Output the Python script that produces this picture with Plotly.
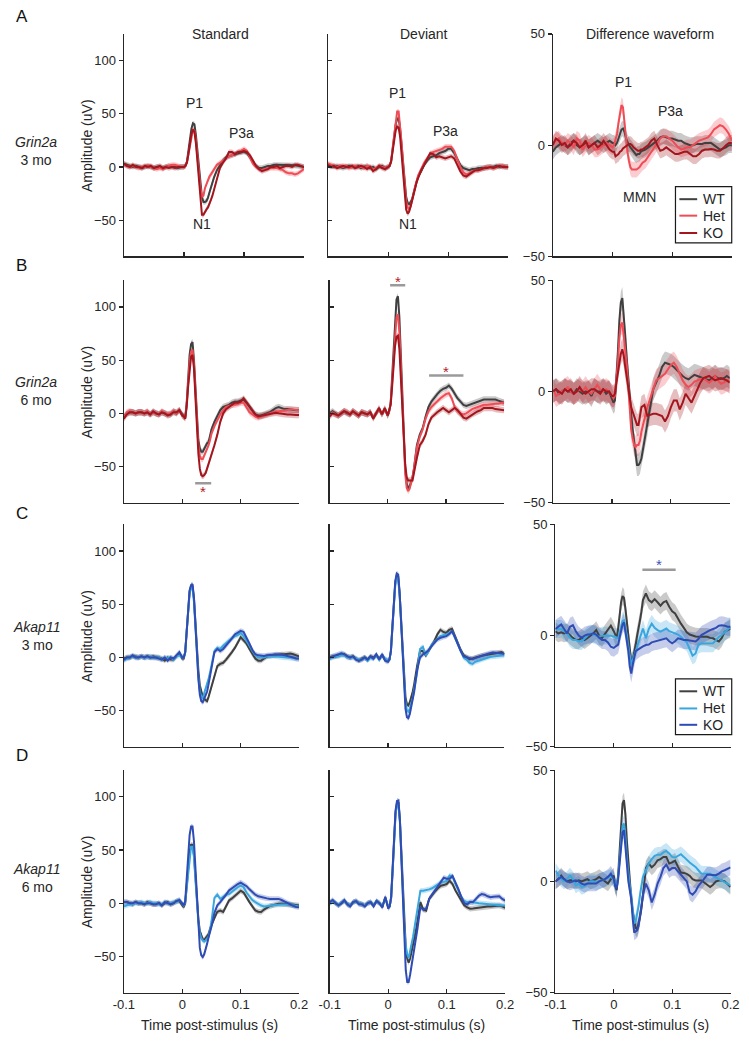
import plotly.graph_objects as go

W, H = 749, 1041

# ---------------- time grid (s) ----------------
T_PRE = [round(-0.1 + 0.005 * i, 4) for i in range(21)]
T_MID = [round(0.0025 * i, 4) for i in range(1, 21)]
T_LATE = [round(0.05 + 0.005 * i, 4) for i in range(1, 31)]
TIME = T_PRE + T_MID + T_LATE

# ---------------- Grin2a 3 mo ----------------
G3_STD_WT = [3, 2, 1, 0, 1, 0, -1, 0, 1, 0, -1, 0, 0, -1, 0, 1, 0, 0, -1, 0, 0,
             1, 5, 15, 27, 36, 41, 40, 30, 15, -2, -18, -28, -33, -33, -32, -29, -24, -19, -14, -10,
             -3, 2, 6, 9, 10, 11, 12, 13, 14, 14.5, 13, 9, 4, 1, -1, -1, 0, 1, 1, 2, 2, 2, 2, 2, 2, 2, 1.5, 1, 0.5, 0]
G3_STD_HET = [2, 1, 0, 1, 0, -1, 0, 0, 1, 0, -1, -2, -1, -2, 0, 1, 2, 2, 1, 0, 0,
              1, 4, 12, 23, 31, 35, 34, 25, 10, -6, -20, -28, -27, -20, -16, -12, -9, -7, -5, -3,
              2, 4, 6, 8, 10, 11, 12, 14, 15, 17, 15, 9, 3, 0, -2, -3, -2, -1, -1, -1, -1, -2, -3, -5, -6, -6, -7, -6, -4, -2]
G3_STD_KO = [3, 1, 0, 2, 0, 0, -1, 1, 0, 1, -1, 0, 1, -1, 0, -1, 0, -1, 0, 0, 0,
             1, 4, 12, 22, 31, 35, 33, 22, 5, -15, -33, -45, -45, -42, -40, -38, -35, -31, -27, -22,
             -10, -1, 4, 8, 14, 14, 12, 14, 14, 15, 14, 11, 6, 1, -2, -4, -3, -2, 0, 0, 1, -1, 0, 1, 1, 0, 2, 2, 1, 0]

G3_DEV_WT = [2, 1, 0, 1, 0, -1, 0, 1, 0, 0, 1, -1, 0, 1, -1, 0, -2, 0, 1, -1, 0,
             1, 5, 16, 30, 40, 45, 46, 36, 20, 2, -15, -28, -34, -35, -33, -30, -24, -18, -13, -9,
             -4, 2, 6, 9, 10, 11, 13, 14, 15, 17, 17, 13, 7, 2, -1, -2, -3, -2, -2, -1, -1, -1, 0, 0, 0, 1, 0, 1, 0, 0]
G3_DEV_HET = [3, 2, 1, 0, 1, 0, 1, -1, 0, 1, 0, 0, -1, 1, 0, -2, -1, 1, 0, -1, 0,
              1, 6, 18, 34, 46, 52, 52, 40, 22, 2, -18, -32, -38, -40, -37, -32, -25, -18, -12, -8,
              -2, 4, 8, 12, 14, 15, 16, 17, 19, 19, 19, 15, 8, 0, -5, -7, -6, -4, -3, -3, -2, -1, 0, 0, -1, 0, 1, 1, 0, 0]
G3_DEV_KO = [2, 0, 1, -1, 0, 1, 0, 0, 1, -1, 0, 1, 0, -2, 0, -4, -2, 1, -1, -2, 0,
             1, 5, 14, 26, 34, 38, 37, 28, 12, -8, -28, -40, -44, -42, -37, -32, -26, -20, -14, -10,
             -3, 2, 8, 13, 12, 9, 10, 9, 8, 9, 10, 8, 2, -4, -8, -9, -7, -5, -3, -3, -2, -1, -1, 0, -1, 0, 1, 0, 0, 0]

G3_DIF_WT = [-3, -1, 0, 1, 0, -1, 1, 2, 0, -1, 0, 1, -1, 0, 1, 2, 1, 0, 1, 2, 1,
             1, 0, 1, 3, 5, 7, 7.5, 6, 3, 1, 0, -1, -2, -3, -4, -4.5, -4, -4, -3, -2.5,
             -2, -1, 0, 1, 2, 3.5, 4, 3.5, 3, 3, 2.5, 2, 2, 1, 0.5, 0, 0, 0.5, 0.5, 0.5, 1, 1, 1, 0, -1, -2, -1.5, -1, 0, 0]
G3_DIF_HET = [1, 2, 3, 1, 0, 2, 1, -1, 3, 2, -2, 0, 1, 0, -2, -2, -1, 0, 1, 0, -1,
              0, 2, 5, 10, 15, 18, 17, 10, 3, -3, -7, -10, -11, -11, -11, -11, -10.5, -10, -9, -8,
              -7, -5, -3, -1, 1, 3, 4, 4, 3, 2, 0.5, -1, -2, -1.5, -1, -1, 0, 1, 2, 2.5, 3, 3.5, 5, 7, 8, 9, 8.5, 7, 5, 2]
G3_DIF_KO = [0, 3, 2, 0, 1, -1, 0, 2, 1, -1, 0, 2, -1, 0, 1, -1, 0, 2, 0, -2, -3,
             -3, -5, -4.5, -4, -3, -2.5, -1.5, -1, -0.5, 0, 0.5, 0.5, 0, -1, -1.5, -2, -2.5, -2.5, -2, -2,
             -1, 0, 2, 3, 0, -2.5, -2, -1, -2, -3, -4, -4, -3.5, -3, -3, -4, -5, -5, -4, -2.5, -2, -2, -1.7, -2, -2.5, -2.5, -1.5, 0, 1, 1]

# ---------------- Grin2a 6 mo ----------------
G6_STD_WT = [-3, 0, 1, 1, 0, 1, 1, 0, 1, -1, 1, 0, -1, 1, 0, -1, -1, 2, 0, 3, -1,
             -3, -4, 10, 35, 55, 65, 67, 50, 22, -5, -25, -33, -36, -36, -33, -30, -28, -27, -22, -15,
             -8, -3, 3, 6, 7, 8, 10, 11, 11, 12, 13, 10, 6, 2, -1, -2, -2, -1, 0, 1, 3, 5, 6, 5, 4, 4, 3.5, 3, 3, 3]
G6_STD_HET = [-4, 1, 2, 1, 0, 1, 1, 0, 2, -1, 1, 0, -1, 2, 0, -1, 0, 2, 0, 3, -2,
              -3, -4, 8, 30, 48, 58, 60, 46, 20, -8, -30, -40, -43, -43, -40, -36, -33, -30, -25, -19,
              -12, -6, -1, 3, 6, 7, 8, 8, 9, 10, 10, 6, 1, -1, -3, -4, -3, -2, -1, 0.5, 1, 1.5, 2, 2.5, 3, 3.5, 3.7, 3.5, 3, 3]
G6_STD_KO = [-5, -1, 1, 1, 0, 1, 1, 0, 1, -1, 2, 0, -1, 1, 0, -2, -1, 1, 1, 3, -2,
             -3, -5, 6, 25, 43, 53, 55, 42, 15, -15, -38, -52, -58, -59, -58, -56, -52, -48, -44, -38,
             -30, -20, -8, 0, 4, 6, 8, 10, 10, 11, 14, 10, 6, 2, -1, -3, -2.5, -2, -1, -0.5, 0, 0.5, 0, -0.5, -1, -1, -1, -1.5, -1.5, -1.5]

G6_DEV_WT = [0, 2, 0, -2, 0, 2, 0, -1, 2, 0, -2, 1, 0, -1, 1, -4, 0, 4, -1, 4, -2,
             2, 10, 35, 65, 92, 107, 110, 90, 55, 15, -25, -52, -66, -70, -69, -65, -60, -52, -40, -30,
             -20, -14, -3, 6, 11, 15, 18, 21, 23, 24, 26, 23, 18, 14, 11, 8, 7, 8, 9, 10, 11, 12, 13, 13, 13, 13, 13, 12, 11, 10]
G6_DEV_HET = [-2, 1, -1, -2, 0, 2, 1, -1, 2, 0, -2, 1, 0, -1, 1, -4, 0, 4, -1, 4, -2,
              2, 9, 30, 55, 78, 90, 93, 76, 45, 8, -30, -57, -70, -73, -71, -66, -60, -52, -42, -32,
              -22, -15, -5, 2, 6, 9, 12, 14, 16, 18, 19, 14, 6, 2, 0, -1, 0, 2, 4, 5, 6, 7, 8, 8, 8.5, 9, 9, 9, 10, 10]
G6_DEV_KO = [-3, 0, -1, -2, 0, 2, 1, -1, 2, 0, -2, 1, 0, -1, 1, -5, 0, 5, -1, 5, -2,
             2, 8, 25, 45, 63, 72, 73, 60, 35, 5, -25, -48, -60, -63, -63, -63, -63, -56, -48, -42,
             -30, -26, -20, -10, -4, -1, 1, 3, 5, 3, 1, 3, 5, 3, -1, -4, -5, -3, -1, 0.5, 2, 3, 5, 5, 5, 5, 4, 3.5, 3, 3]

G6_DIF_WT = [0, 1, -1, 0, 1, 0, 0, -1, 1, 0, -1, 0, 0, -2, 1, 0, 0, 1, -1, 0, -3,
             -5, -4, 5, 18, 32, 40, 42, 35, 25, 15, 5, -3, -10, -17, -23, -28, -33, -33, -32, -30,
             -22, -15, -6, 1, 4, 7, 11, 13, 12.5, 12, 11, 9.5, 8, 7, 6, 5.5, 6.5, 7.5, 7, 6.5, 6, 5.5, 5, 6, 7, 6, 5.6, 6, 7, 6]
G6_DIF_HET = [1, -2, -1, 0, 1, 2, 0, -1, 0, 1, 0, 2, 0, -1, 1, 3, 1, 0, 1, 0, -2,
              -3, -2, 4, 13, 24, 30, 31, 25, 18, 12, 3, -8, -17, -21, -24, -25, -24, -24, -22, -18,
              -12, -7, -3, 1, 5, 6, 7, 8, 10, 12, 13, 11, 8, 5, 3, 2, 3, 4.5, 5, 5.5, 6, 5, 4, 5, 7, 5, 3.5, 4, 5, 5]
G6_DIF_KO = [0, 1, 0, -1, 1, 0, 1, -1, 0, 2, 0, -1, 0, 1, 1, 0, -1, 1, 0, 0, -2,
             -2, -1, 4, 9, 14, 17, 19, 16, 11, 6, 1, -3, -7, -9, -11, -13, -15, -15, -11, -7,
             -6, -11, -10.5, -10, -10, -10.5, -11, -13.5, -11, -7, -4, -4, -8, -5, -1, -3, -5, -2, 1, 4, 6, 6.5, 7, 6, 5, 5.5, 6, 5.5, 5, 4]

# ---------------- Akap11 3 mo ----------------
A3_STD_WT = [-1, 0, 0, 1, 1, 0, 1, 0, 1, 0, 1, 0, 0, -1, -3, 0, -2, -2, 1, 4, -1,
             -1, 5, 25, 48, 62, 67, 67, 55, 32, 8, -12, -26, -33, -37, -39, -40, -41, -37, -32, -28,
             -18, -8, -6, -5, -2, 1, 5, 9, 14, 19, 16, 13, 8, 3, -1, -3, -3, -1, 1, 1.5, 2, 2, 2.5, 3, 3, 3.5, 3.7, 3, 2, 1]
A3_STD_HET = [-3, -1, 0, 1, 0, 0, 1, 0, 0, 1, 0, 0, 0, -2, 0, -1, 0, -2, 1, 2, 0,
              0, 5, 25, 47, 60, 66, 65, 52, 28, 3, -18, -32, -37, -38, -34, -30, -25, -20, -14, -8,
              6, 9, 8, 11, 14, 16, 18, 20, 21, 23, 20, 16, 11, 6, 2, 0, 0, 0, 1, 1, 1.5, 1.5, 1, 0.5, 0, 0, 0, -0.5, -1, -1.5]
A3_STD_KO = [-2, 0, 0, 2, 0, 0, 1, 0, 1, 0, 0, 0, -1, -2, 0, -3, 0, -1, 2, 5, 0,
             0, 5, 26, 49, 63, 68, 69, 56, 30, 3, -20, -35, -41, -42, -39, -35, -32, -25, -18, -11,
             5, 8, 6, 8, 11, 14, 18, 21.6, 23, 25, 24, 19, 13, 7, 3, 2, 1.5, 1.5, 2, 2, 2.5, 3, 3, 2.5, 2, 1.5, 1, 0, -1, -1]

A3_DEV_WT = [0, 1, 1, 2, 3, 3, 1, 0, 1, -1, -3, -1, 0, -2, 1, 0, 2, -1, 2, -2, -3,
             -2, 6, 28, 52, 70, 77, 76, 60, 35, 5, -20, -37, -44, -45, -42, -38, -32, -25, -15, -8,
             6, 6, 2, 6, 11, 16, 22, 26, 24, 23, 26, 27, 20, 13, 7, 2, 0, -1.5, -1, 0, 1, 1.5, 2, 2.5, 3, 3.5, 4, 5, 5, 3]
A3_DEV_HET = [-1, 0, 1, 1, 2, 2, 0, 0, 0, -1, -2, -2, 0, -3, 0, -1, 2, -2, 2, -1, -3,
              -2, 6, 27, 50, 68, 75, 74, 58, 32, 2, -25, -42, -50, -51, -48, -43, -38, -30, -22, -14,
              8, 10, 2, 6, 12, 15, 18, 20, 21, 21.6, 23, 24.7, 19, 12, 6, 0, -2, -5, -6, -4, -3, -2, -1, 0, 0.5, 1, 1.3, 1.5, 1.8, 2]
A3_DEV_KO = [0, 1, 2, 3, 4, 3, 1, 0, 1, -2, -3, -2, 0, -2, 1, -1, 3, -2, 3, -3, -4,
             -2, 6, 28, 54, 72, 79, 78, 61, 33, 0, -30, -48, -56, -57, -53, -47, -40, -32, -22, -12,
             0, 3, 4.6, 7, 11, 14, 17, 18.5, 19.5, 20, 22, 24.7, 19, 12, 6, 1, 0, -1, -1.5, -0.5, 0.5, 1.5, 2, 3, 4, 4.6, 4.5, 4, 3.7, 3.5]

A3_DIF_WT = [2, 1, 1.5, 1, 1.5, 0, -1, -2, -2, -1, -2, -1, 0, 1, 2.5, 0, -1, 1, 3, 4.5, 2,
             0, -1, 3, 9, 15, 17.8, 17, 12, 6, 3, -5, -12, -11, -8, -4, 0, 3, 7, 11, 16,
             19, 16, 15, 16.4, 15, 13.5, 15, 15.6, 13, 11, 10, 7.5, 5.4, 3.5, 1.5, 0.5, 0, -0.4, -0.5, -0.4, -0.4, -0.5, -1, -1.2, -2, -2.6, -1, 1.8, 2.5, 3.2]
A3_DIF_HET = [3, 3, 3, 2, 1, -1, -2, -2, -2.5, -2.5, -1, 0, 1, 0.5, 0, -0.5, 0, 0, 0, 0, -0.5,
              -0.5, -1, -1, 1, 4, 6.5, 6.9, 4, 0, -5, -10, -12.9, -11, -9, -6, -4, -2, 0, 2, 3.2,
              -1.2, 3, 5.4, 3.5, 2.5, 1.8, 2.5, 3.2, 2, 1.5, 1, 0.5, -0.5, -2, -3, -6, -9, -8, -4, -3.5, -3.4, -3.4, -3.4, -3.4, -2, -0.5, 0.3, 1.5, 3, 4]
A3_DIF_KO = [3, 4, 5, 3, 1, 4, 4.7, 2, 0, -1, 0, 0.5, 0.5, 1, 0.5, -1, -2, -2, -3, -5, -5.5,
             -5, -4.5, -4, -1, 3, 5, 6, 2, -3, -7, -14, -17, -13, -10, -7, -6.5, -6, -5.5, -5, -4.8,
             -4.2, -4, -3, -2.6, -2.3, -2, -1.5, -1.2, -2.5, -3.4, -2.5, -1.2, -1.5, -2, -2, -2.2, -2.5, -2.6, -1.5, 0.3, 1, 1.8, 2.5, 3, 3.5, 4.5, 4.7, 4.5, 4, 4]

# ---------------- Akap11 6 mo ----------------
A6_STD_WT = [1, 1, 0, -1, 1, 0, 0, -1, 1, 0, -1, -1, 0, -2, 0, 1, -1, 0, 2, 2, -2,
             -3.7, 0, 15, 33, 48, 55, 55, 45, 25, 3, -15, -26, -31, -34, -34.6, -33, -31, -29, -24, -20,
             -14, -8, -7, -8.3, -3, 2.5, 4.5, 7, 9, 11.7, 10, 5, 1, -3, -6.8, -8, -8.3, -6, -4, -2.5, -2, -1, -0.6, -0.6, -1, -1, -1.2, -1.5, -2, -2.2]
A6_STD_HET = [-3, -2, -1, -1, 0, 0, 1, 0, 0, 1, 0, 0, -1, -1, 1, 0, 0, 1, 1, 3, -1,
              -2, 1, 14, 32, 46, 53, 53, 43, 22, 0, -18, -28, -33, -35, -36, -35, -33, -31.5, -25, -17,
              5, 8, 4, 6, 8, 8.6, 11, 13, 15, 16.4, 15, 10, 6, 3, 1, -1, -2.2, -3, -3, -2.5, -2, -1.5, -1.2, -1.2, -1.2, -1.2, -1.2, -2, -2.5, -3]
A6_STD_KO = [1, 1, 0, 0, 1, 0, 0, -1, 0, 0, -1, -1, 0, -2, 1, 0, -1, 0, 2, 3, -1,
             -2, 2, 20, 45, 64, 72, 72, 58, 30, 0, -25, -42, -49, -50.6, -48, -44, -38, -32, -27, -22,
             -9, -2, 1, 4, 8, 12, 14, 16.4, 18, 19.4, 18, 16, 13, 10, 8, 6.5, 5.6, 5, 4.5, 4, 4, 4, 4, 3, 1.5, 0, -1.5, -2.5, -3.5, -3.7]

A6_DEV_WT = [0, 2, 0, -2, 0, 2, -1, -2, 1, 2, 0, -1, -2, 0, 1, -2, 2, 0, -3, 5, -4,
             -3, 5, 30, 62, 85, 94, 95, 78, 45, 8, -22, -42, -52, -56, -52, -44, -38, -32, -25, -15,
             1, -6, -7, 4, 8, 11, 14, 16.4, 17, 18, 21, 18, 12, 7, 2, -2, -4, -5.2, -5, -4.5, -4, -3.7, -3.5, -3.2, -3, -2.8, -2.5, -2.2, -3, -4.3]
A6_DEV_HET = [0, 2, 0, -2, 1, 2, -1, -2, 1, 2, 0, -1, -2, 0, 1, -2, 2, 0, -3, 5, -3,
              -3, 5, 30, 60, 83, 92, 93, 76, 43, 6, -22, -40, -48, -51.5, -46, -38, -31.5, -22, -15, -7,
              11.7, 11.7, 12, 13, 14, 16, 18, 19.4, 20, 21, 26, 25, 18, 12, 6, 2, 1, 1, 1, 0.5, 0, -0.3, -0.6, -1, -1.5, -2, -2.2, -2.2, -2.2, -2.2]
A6_DEV_KO = [1, 3, 0, -2, 0, 3, -1, -3, 1, 2, -1, -1, -3, 0, 1, -3, 2, 0, -4, 6, -5,
             -3, 6, 32, 63, 87, 96, 96.6, 78, 42, 0, -38, -63, -74, -74, -67, -59, -50, -40, -32, -24,
             -3.7, -6, -5, 4, 8, 12, 15, 20, 24, 23, 23, 25.6, 20, 13.3, 6, 0, -1, 1, 1, 4, 7, 8.6, 8, 6.5, 5.6, 6, 6.5, 6.5, 4, 2.5]

A6_DIF_WT = [0, 1, 2.6, 1, 0, 0.5, 0.5, 0, 0.5, 0, 0.5, 1, 0, 0.5, 1, 2, 1, 0, -1, 1, 2.6,
             -2, -4, 3, 14, 28, 35, 36.5, 30, 18, 8, 0, -8, -14, -18.7, -21, -21.6, -19, -16, -12, -6,
             6, 8, 6.3, 7.5, 9.5, 10, 11, 11, 8, 8.5, 9.3, 6.5, 4, 3.8, 3.4, 2.5, 1, 0.4, 0.4, 0.4, -0.5, -1.5, -2.5, -1.5, 0, 0.4, 0.4, 0, -1.5, -2.5]
A6_DIF_HET = [4.8, 3, 1, 0, 1, 2.6, 1, -1.8, -1, -2.5, -2, -1, 0, 0, -0.5, 0, 0.5, 1, 1.5, 2, 1,
              -1, -2.5, 2, 10, 20, 25, 26, 20, 10, 2, -2, -6, -13, -19, -18, -15, -11, -6, -1, 2,
              5, 8, 10, 11.5, 12, 12, 13, 13.7, 12.5, 11, 10.7, 11.5, 12.2, 11, 9.5, 8.5, 7.5, 6.5, 5, 3.5, 3.4, 3.4, 3.4, 2.5, 1.8, 1.2, 0.5, -0.3, -1, -1.8]
A6_DIF_KO = [0, 1, 2, 1, 0, -0.5, 0, 0.5, 0, -1, -1.5, -1, -1, -1, -1, 0, 0.5, 1, 2, 3.4, 1,
             -2, -3.2, 1, 8, 17, 22, 23, 16, 6, 0, -4, -8, -17, -23, -22.5, -22, -20, -15, -11, -6,
             -1, -4, -9.5, -6, -1, 2, 6, 7.5, 5, 6, 6, 4.5, 3, 1.5, 0, -5, -6, -4.5, -2, -0.5, 1.5, 3, 3, 2.8, 2.8, 3.5, 4.5, 5, 5.8, 6.3]

# SEM half-widths of shaded bands (uV), per row
SEM_ERP = [2.5, 3.0, 2.5, 2.5]
SEM_DIFF = [3.5, 5.0, 4.0, 3.5]

GROUPS = ['WT', 'Het', 'KO']
ROW_LETTERS = ['A', 'B', 'C', 'D']
ROW_GENES = ['Grin2a', 'Grin2a', 'Akap11', 'Akap11']
ROW_AGES = ['3 mo', '6 mo', '3 mo', '6 mo']
COL_TITLES = ['Standard', 'Deviant', 'Difference waveform']
X_TICKS = [-0.1, 0, 0.1, 0.2]
X_TICKTEXT = ['-0.1', '0', '0.1', '0.2']
Y_TICKS_ERP = [-50, 0, 50, 100]
Y_TICKS_DIFF = [-50, 0, 50]

PANELS = [
    [(G3_STD_WT, G3_STD_HET, G3_STD_KO), (G3_DEV_WT, G3_DEV_HET, G3_DEV_KO), (G3_DIF_WT, G3_DIF_HET, G3_DIF_KO)],
    [(G6_STD_WT, G6_STD_HET, G6_STD_KO), (G6_DEV_WT, G6_DEV_HET, G6_DEV_KO), (G6_DIF_WT, G6_DIF_HET, G6_DIF_KO)],
    [(A3_STD_WT, A3_STD_HET, A3_STD_KO), (A3_DEV_WT, A3_DEV_HET, A3_DEV_KO), (A3_DIF_WT, A3_DIF_HET, A3_DIF_KO)],
    [(A6_STD_WT, A6_STD_HET, A6_STD_KO), (A6_DEV_WT, A6_DEV_HET, A6_DEV_KO), (A6_DIF_WT, A6_DIF_HET, A6_DIF_KO)],
]

RED_LINES = ['#404040', '#ef4c56', '#a3161e']
RED_BANDS = ['rgba(64,64,64,0.28)', 'rgba(239,76,86,0.28)', 'rgba(163,22,30,0.28)']
BLUE_LINES = ['#404040', '#3aa6de', '#2f4cb4']
BLUE_BANDS = ['rgba(64,64,64,0.28)', 'rgba(58,166,222,0.28)', 'rgba(47,76,180,0.28)']

# significance bars: (row, col, t_start, t_end, bar_y, star_y (bottom of text box), star colour)
SIG = [
    (1, 0, 0.022, 0.0495, -65.7, -83.0, '#b3212b'),
    (1, 1, 0.004, 0.030, 120.4, 114.4, '#b3212b'),
    (1, 1, 0.071, 0.130, 35.5, 29.6, '#b3212b'),
    (2, 2, 0.049, 0.106, 29.6, 27.3, '#3b54b8'),
]

# peak labels in row A: (col, t, y, text)
PEAK_LABELS = [
    (0, 0.0168, 59.8, 'P1'), (0, 0.0957, 31.7, 'P3a'), (0, 0.0309, -54, 'N1'),
    (1, 0.0159, 69.4, 'P1'), (1, 0.0948, 33.6, 'P3a'), (1, 0.0337, -53.5, 'N1'),
    (2, 0.0184, 28.4, 'P1'), (2, 0.0966, 15.4, 'P3a'), (2, 0.0445, -23.5, 'MMN'),
]

# ---------------- layout geometry (page pixels) ----------------
X_DOM = [
    [(116, 301), (325.7, 511), (556.7, 740.7)],
    [(116, 296), (327.3, 506.7), (557, 738.5)],
    [(116, 296), (327.5, 507), (559.3, 739.3)],
    [(116, 296), (327.5, 507.7), (559.3, 739.3)],
]
Y_DOM = [(27.3, 253), (277.3, 503), (525, 750.7), (774.3, 1000)]
ERP_RANGE = [-84, 125]
DIFF_RANGE = [-50, 50]

FONT = 'Liberation Sans, Arial, Helvetica, sans-serif'
AX_COLOR = '#262626'


def px_x(v):
    return v / W


def px_y(v):
    return 1 - v / H


fig = go.Figure()
layout = dict(
    width=W, height=H, margin=dict(l=0, r=0, t=0, b=0),
    paper_bgcolor='white', plot_bgcolor='white', showlegend=False,
    font=dict(family=FONT, size=14, color=AX_COLOR),
)
annotations = []
shapes = []

for r in range(4):
    lines = RED_LINES if r < 2 else BLUE_LINES
    bands = RED_BANDS if r < 2 else BLUE_BANDS
    for c in range(3):
        idx = r * 3 + c + 1
        xn = 'x' if idx == 1 else f'x{idx}'
        yn = 'y' if idx == 1 else f'y{idx}'
        xk = 'xaxis' if idx == 1 else f'xaxis{idx}'
        yk = 'yaxis' if idx == 1 else f'yaxis{idx}'
        x0, x1 = X_DOM[r][c]
        yt, yb = Y_DOM[r]
        layout[xk] = dict(
            domain=[px_x(x0), px_x(x1)], anchor=yn, range=[-0.1, 0.2],
            showline=True, linecolor=AX_COLOR, linewidth=1.3,
            ticks='inside', ticklen=4, tickwidth=1.2, tickcolor=AX_COLOR,
            tickvals=X_TICKS, ticktext=X_TICKTEXT, showticklabels=(r == 3),
            tickfont=dict(size=13, family=FONT, color=AX_COLOR),
            showgrid=False, zeroline=False, fixedrange=True,
        )
        is_diff = (c == 2)
        layout[yk] = dict(
            domain=[px_y(yb), px_y(yt)], anchor=xn,
            range=DIFF_RANGE if is_diff else ERP_RANGE,
            showline=True, linecolor=AX_COLOR, linewidth=1.3,
            ticks='inside' if c == 1 else 'outside', ticklen=4, tickwidth=1.2, tickcolor=AX_COLOR,
            tickvals=Y_TICKS_DIFF if is_diff else Y_TICKS_ERP,
            showticklabels=(c != 1),
            tickfont=dict(size=13, family=FONT, color=AX_COLOR),
            showgrid=False, zeroline=False, fixedrange=True,
        )
        sem = SEM_DIFF[r] if is_diff else SEM_ERP[r]
        series = PANELS[r][c]
        for g in range(3):
            vals = series[g]
            assert len(vals) == len(TIME), (r, c, g, len(vals))
            up = [v + sem for v in vals]
            lo = [v - sem for v in vals]
            fig.add_trace(go.Scatter(
                x=TIME + TIME[::-1], y=up + lo[::-1], xaxis=xn, yaxis=yn,
                fill='toself', fillcolor=bands[g], line=dict(width=0),
                mode='lines', hoverinfo='skip', showlegend=False))
        for g in range(3):
            fig.add_trace(go.Scatter(
                x=TIME, y=series[g], xaxis=xn, yaxis=yn, mode='lines',
                line=dict(color=lines[g], width=2), name=GROUPS[g], showlegend=False))

    # y-axis title, row label and panel letter
    yc = (Y_DOM[r][0] + Y_DOM[r][1]) / 2
    annotations.append(dict(
        x=px_x(78), y=px_y(yc), xref='paper', yref='paper', text='Amplitude (uV)',
        textangle=-90, showarrow=False, font=dict(size=14, family=FONT, color=AX_COLOR),
        xanchor='center', yanchor='middle'))
    label_y = [146, 390, 638.5, 883.5][r]
    annotations.append(dict(
        x=px_x(26), y=px_y(label_y), xref='paper', yref='paper',
        text=f'<i>{ROW_GENES[r]}</i><br>{ROW_AGES[r]}', showarrow=False,
        font=dict(size=14, family=FONT, color=AX_COLOR), align='center',
        xanchor='center', yanchor='middle'))
    letter_y = [9.5, 262, 514, 759][r]
    annotations.append(dict(
        x=px_x(11), y=px_y(letter_y), xref='paper', yref='paper', text=ROW_LETTERS[r],
        showarrow=False, font=dict(size=17, family=FONT, color='#111111'),
        xanchor='center', yanchor='middle', borderpad=0))

# column titles
for tx, title in zip([215, 424.8, 656.7], COL_TITLES):
    annotations.append(dict(
        x=px_x(tx), y=px_y(27), xref='paper', yref='paper', text=title, showarrow=False,
        font=dict(size=14, family=FONT, color=AX_COLOR), xanchor='center', yanchor='middle'))

# x axis titles (bottom row)
for tx in [203.5, 417, 647]:
    annotations.append(dict(
        x=px_x(tx), y=px_y(1033), xref='paper', yref='paper', text='Time post-stimulus (s)',
        showarrow=False, font=dict(size=14, family=FONT, color=AX_COLOR),
        xanchor='center', yanchor='middle'))

# peak labels
for c, t, y, txt in PEAK_LABELS:
    idx = c + 1
    annotations.append(dict(
        x=t, y=y, xref='x' if idx == 1 else f'x{idx}', yref='y' if idx == 1 else f'y{idx}',
        text=txt, showarrow=False, font=dict(size=14, family=FONT, color=AX_COLOR),
        xanchor='center', yanchor='middle'))

# p value
annotations.append(dict(
    x=0.0174, y=54.4, xref='x6', yref='y6', text='<i>p</i>=0.19', showarrow=False,
    font=dict(size=14, family=FONT, color=AX_COLOR), xanchor='center', yanchor='middle'))

# significance bars and stars
for r, c, t0, t1, y, sy, col in SIG:
    idx = r * 3 + c + 1
    xn = 'x' if idx == 1 else f'x{idx}'
    yn = 'y' if idx == 1 else f'y{idx}'
    fig.add_trace(go.Scatter(x=[t0, t1], y=[y, y], xaxis=xn, yaxis=yn, mode='lines',
                             line=dict(color='#9a9a9a', width=2.5), hoverinfo='skip',
                             showlegend=False, cliponaxis=False))
    annotations.append(dict(
        x=(t0 + t1) / 2, y=sy, xref=xn, yref=yn, text='*', showarrow=False,
        font=dict(size=15, family=FONT, color=col), xanchor='center', yanchor='bottom'))

# legends (rows A and C, difference column)
LEGENDS = [
    (182.3, 239.3, [195, 211.7, 229.3], RED_LINES),
    (681.7, 738.3, [694.3, 711.7, 728.3], BLUE_LINES),
]
for top, bot, ys, cols in LEGENDS:
    shapes.append(dict(type='rect', xref='paper', yref='paper',
                       x0=px_x(682.7), x1=px_x(740.5), y0=px_y(bot), y1=px_y(top),
                       line=dict(color='#1a1a1a', width=1.2), fillcolor='white', layer='above'))
    for yy, colr, name in zip(ys, cols, GROUPS):
        shapes.append(dict(type='line', xref='paper', yref='paper',
                           x0=px_x(686.7), x1=px_x(705), y0=px_y(yy), y1=px_y(yy),
                           line=dict(color=colr, width=2), layer='above'))
        annotations.append(dict(
            x=px_x(709), y=px_y(yy), xref='paper', yref='paper', text=name, showarrow=False,
            font=dict(size=14, family=FONT, color=AX_COLOR), xanchor='left', yanchor='middle'))

layout['annotations'] = annotations
layout['shapes'] = shapes
fig.update_layout(**layout)

# remove the default 8 px page margin so the 749x1041 figure fills the window exactly
PAGE_CSS_JS = ("document.body.style.margin='0';document.body.style.padding='0';"
               "document.documentElement.style.overflow='hidden';")
fig.write_html('out.html', config={'displayModeBar': False, 'staticPlot': True},
               post_script=PAGE_CSS_JS)
